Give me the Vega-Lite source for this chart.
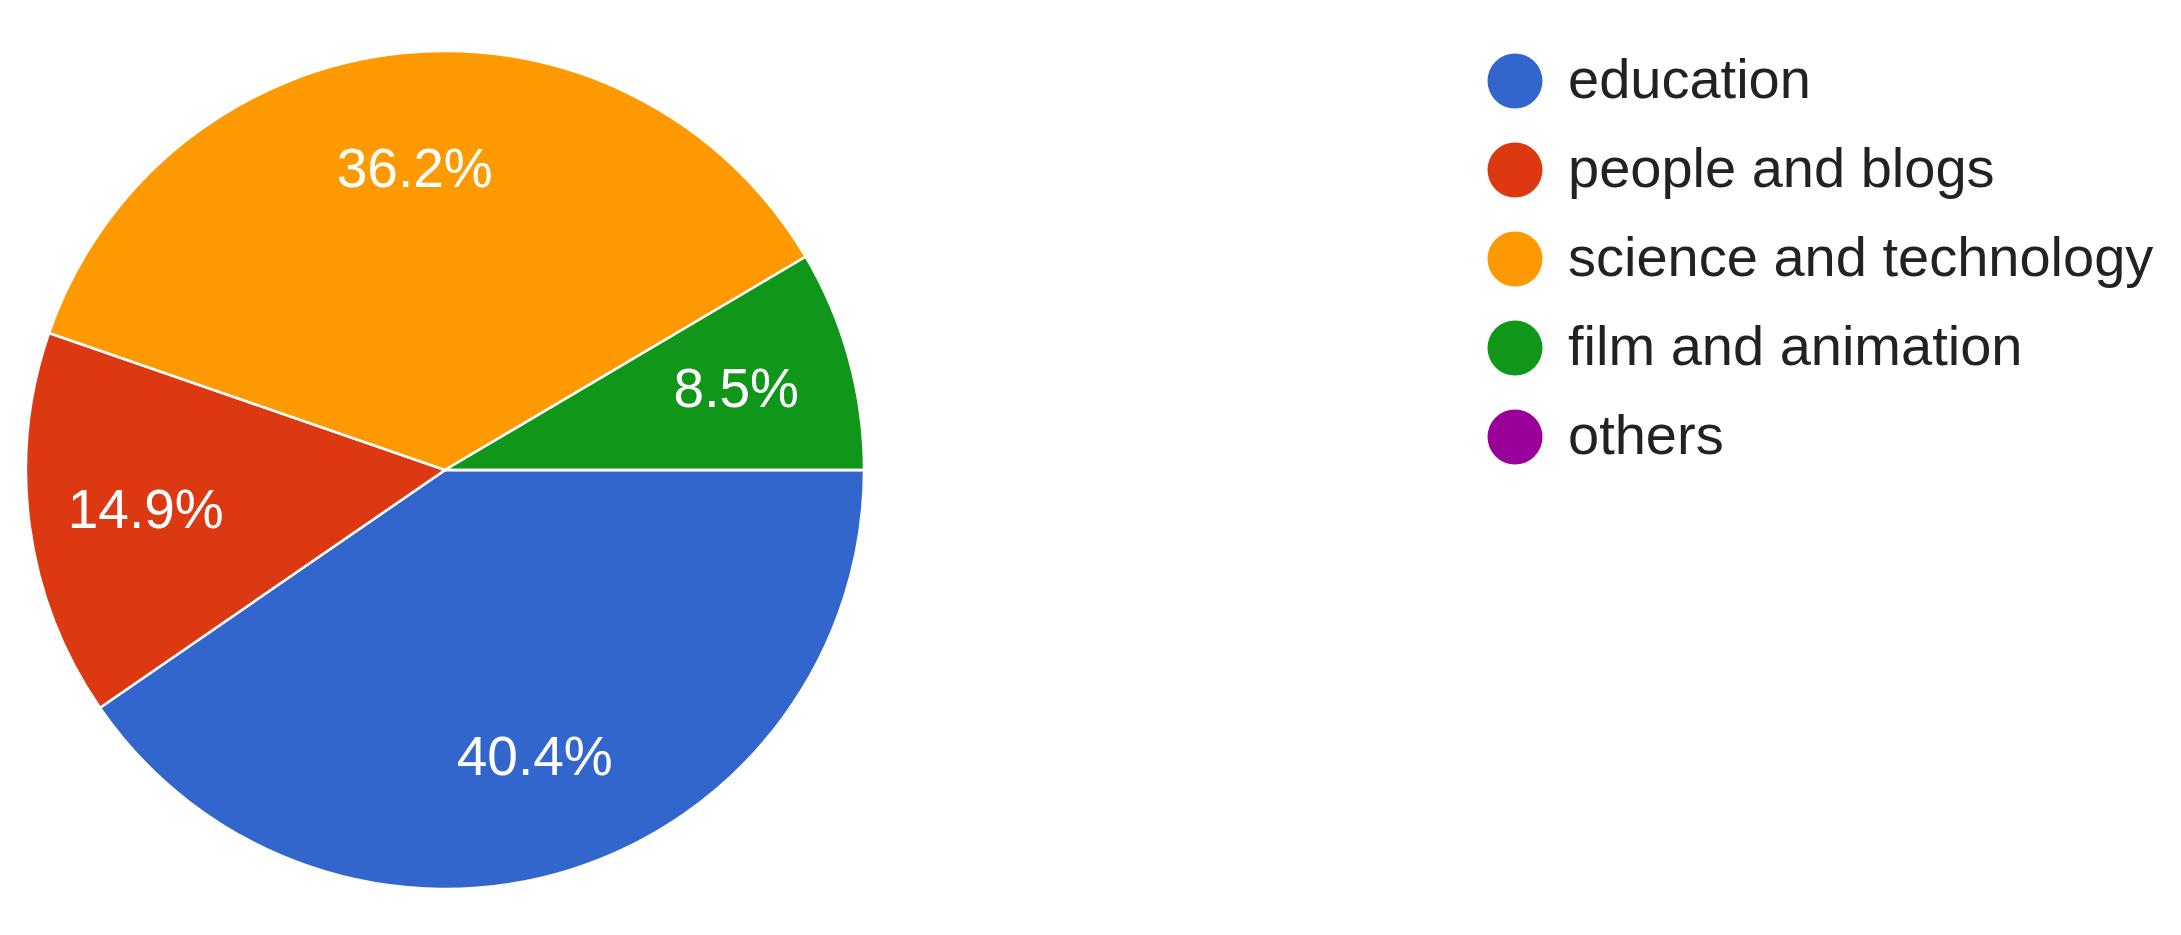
{
  "$schema": "https://vega.github.io/schema/vega-lite/v6.json",
  "width": 890,
  "height": 940,
  "padding": 0,
  "autosize": {"type": "pad"},
  "background": "white",
  "config": {"view": {"stroke": null}, "font": "Liberation Sans"},
  "data": {
    "values": [
      {"category": "education", "share": 0.404, "k": 1},
      {"category": "people and blogs", "share": 0.149, "k": 2},
      {"category": "science and technology", "share": 0.362, "k": 3},
      {"category": "film and animation", "share": 0.085, "k": 4},
      {"category": "others", "share": 0.0, "k": 5}
    ]
  },
  "encoding": {
    "theta": {"field": "share", "type": "quantitative", "stack": true, "scale": {"range": [1.5707963, 7.8539816]}},
    "order": {"field": "k", "type": "quantitative"}
  },
  "layer": [
    {
      "mark": {"type": "arc", "radius": 419, "stroke": "white", "strokeWidth": 2.5},
      "encoding": {
        "color": {
          "field": "category",
          "type": "nominal",
          "scale": {
            "domain": ["education", "people and blogs", "science and technology", "film and animation", "others"],
            "range": ["#3366CC", "#DC3912", "#FF9900", "#109618", "#990099"]
          },
          "legend": {
            "orient": "none",
            "legendX": 1487,
            "legendY": 53,
            "title": null,
            "symbolType": "circle",
            "symbolSize": 3025,
            "symbolStrokeWidth": 0,
            "symbolOpacity": 1,
            "labelFontSize": 56,
            "labelFont": "Liberation Sans",
            "labelColor": "#222222",
            "labelLimit": 1000,
            "labelOffset": 25,
            "rowPadding": 33
          }
        }
      }
    },
    {
      "transform": [{"filter": "datum.share > 0"}],
      "mark": {"type": "text", "radius": 302, "fontSize": 55, "font": "Liberation Sans", "align": "center", "baseline": "middle"},
      "encoding": {
        "text": {"field": "share", "type": "quantitative", "format": ".1%"},
        "color": {"value": "white"}
      }
    }
  ]
}
